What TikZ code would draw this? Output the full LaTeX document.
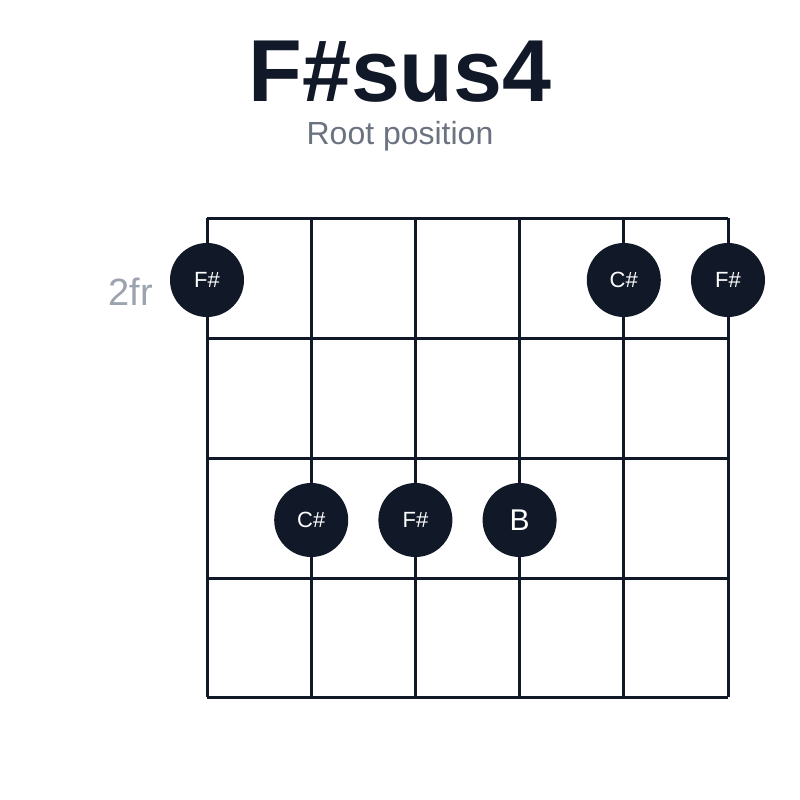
\documentclass[tikz,border=0pt]{standalone}
\usepackage{fontspec}
\setmainfont{Liberation Sans}
\definecolor{ink}{HTML}{111827}
\definecolor{sub}{HTML}{6B7280}
\definecolor{fr}{HTML}{9CA3AF}
\begin{document}
\begin{tikzpicture}[x=1pt,y=-1pt,
  grid/.style={draw=ink,line width=3pt},
  dot/.style={circle,fill=ink,minimum size=74pt,inner sep=0pt,text=white,font=\fontsize{22}{22}\selectfont}]
\useasboundingbox (0,0) rectangle (800,800);
\node (title) at (400,72) {\fontsize{88}{88}\selectfont\bfseries\color{ink}F\#sus4};
\node (subt) at (400,136) {\fontsize{32}{32}\selectfont\color{sub}Root position};
\node (fret) at (131,292) {\fontsize{38}{38}\selectfont\color{fr}2fr};
\foreach \x in {207,311.2,415.4,519.6,623.8,728} \draw[grid] (\x,218) -- (\x,697);
\foreach \y in {218,338,458,578,697} \draw[grid] (207,\y) -- (728,\y);
\node[dot] (d1) at (207,280) {F\#};
\node[dot] (d2) at (623.8,280) {C\#};
\node[dot] (d3) at (728,280) {F\#};
\node[dot] (d4) at (311.2,520) {C\#};
\node[dot] (d5) at (415.4,520) {F\#};
\node[dot,font=\fontsize{30}{30}\selectfont] (d6) at (519.6,520) {B};
\end{tikzpicture}
\end{document}
